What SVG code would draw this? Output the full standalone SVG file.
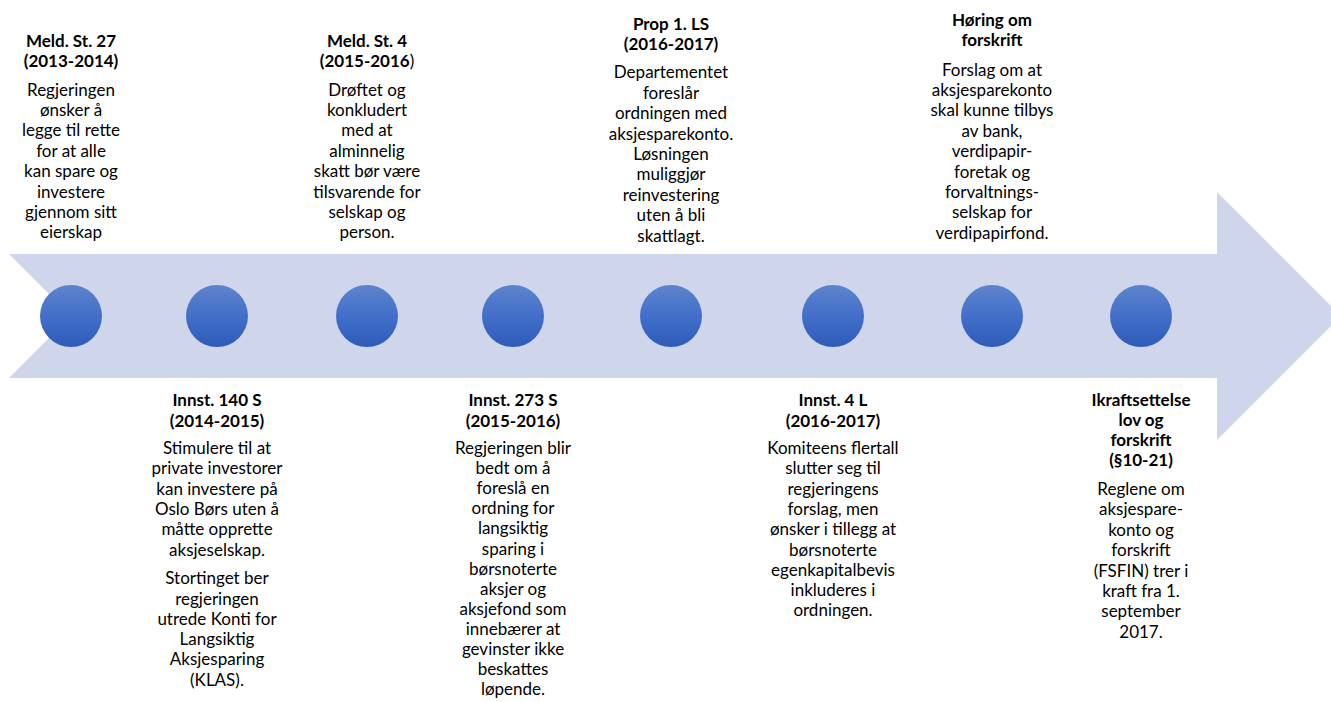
<svg xmlns="http://www.w3.org/2000/svg" width="1331" height="702" viewBox="0 0 1331 702">
<defs>
<linearGradient id="dot" x1="0" y1="0" x2="0" y2="1">
<stop offset="0" stop-color="#5D84CD"/>
<stop offset="0.5" stop-color="#436FC9"/>
<stop offset="1" stop-color="#2D5BB9"/>
</linearGradient>
<style>
.t{font-family:Lato,"Liberation Sans",sans-serif;font-weight:bold;font-size:17px;text-anchor:middle;fill:#000}
.b{font-family:Lato,"Liberation Sans",sans-serif;font-size:17px;text-anchor:middle;fill:#000}
.n{font-weight:normal}
.dot{fill:url(#dot)}
</style>
</defs>
<rect width="1331" height="702" fill="#fff"/>
<g id="arrow">
<polygon points="9,254 1217,254 1217,192 1341,316 1217,440 1217,378 9,378 71,316" fill="#CFD5EA"/>
</g>
<g id="connectors"></g>
<g id="dots">
<circle class="dot" cx="71" cy="316" r="31"/>
<circle class="dot" cx="217" cy="316" r="31"/>
<circle class="dot" cx="367" cy="316" r="31"/>
<circle class="dot" cx="513" cy="316" r="31"/>
<circle class="dot" cx="671" cy="316" r="31"/>
<circle class="dot" cx="833" cy="316" r="31"/>
<circle class="dot" cx="992" cy="316" r="31"/>
<circle class="dot" cx="1141" cy="316" r="31"/>
</g>
<g id="node1">
<text class="t"><tspan x="71" y="46.7">Meld. St. 27</tspan><tspan x="71" y="66.7">(2013-2014)</tspan></text>
<text class="b"><tspan x="71" y="95.5">Regjeringen</tspan><tspan x="71" dy="20.4">ønsker å</tspan><tspan x="71" dy="20.4">legge til rette</tspan><tspan x="71" dy="20.4">for at alle</tspan><tspan x="71" dy="20.4">kan spare og</tspan><tspan x="71" dy="20.4">investere</tspan><tspan x="71" dy="20.4">gjennom sitt</tspan><tspan x="71" dy="20.4">eierskap</tspan></text>
</g>
<g id="node2">
<text class="t"><tspan x="217" y="406">Innst. 140 S</tspan><tspan x="217" y="426.5">(2014-2015)</tspan></text>
<text class="b"><tspan x="217" y="454">Stimulere til at</tspan><tspan x="217" dy="20.3">private investorer</tspan><tspan x="217" dy="20.3">kan investere på</tspan><tspan x="217" dy="20.3">Oslo Børs uten å</tspan><tspan x="217" dy="20.3">måtte opprette</tspan><tspan x="217" dy="20.3">aksjeselskap.</tspan><tspan x="217" dy="28.7">Stortinget ber</tspan><tspan x="217" dy="20.3">regjeringen</tspan><tspan x="217" dy="20.3">utrede Konti for</tspan><tspan x="217" dy="20.3">Langsiktig</tspan><tspan x="217" dy="20.3">Aksjesparing</tspan><tspan x="217" dy="20.3">(KLAS).</tspan></text>
</g>
<g id="node3">
<text class="t"><tspan x="367" y="46.7">Meld. St. 4</tspan><tspan x="367" y="66.7">(2015-2016<tspan class="n">)</tspan></tspan></text>
<text class="b"><tspan x="367" y="95.5">Drøftet og</tspan><tspan x="367" dy="20.4">konkludert</tspan><tspan x="367" dy="20.4">med at</tspan><tspan x="367" dy="20.4">alminnelig</tspan><tspan x="367" dy="20.4">skatt bør være</tspan><tspan x="367" dy="20.4">tilsvarende for</tspan><tspan x="367" dy="20.4">selskap og</tspan><tspan x="367" dy="20.4">person.</tspan></text>
</g>
<g id="node4">
<text class="t"><tspan x="513" y="406">Innst. 273 S</tspan><tspan x="513" y="426.5">(2015-2016)</tspan></text>
<text class="b"><tspan x="513" y="454">Regjeringen blir</tspan><tspan x="513" dy="20.1">bedt om å</tspan><tspan x="513" dy="20.1">foreslå en</tspan><tspan x="513" dy="20.1">ordning for</tspan><tspan x="513" dy="20.1">langsiktig</tspan><tspan x="513" dy="20.1">sparing i</tspan><tspan x="513" dy="20.1">børsnoterte</tspan><tspan x="513" dy="20.1">aksjer og</tspan><tspan x="513" dy="20.1">aksjefond som</tspan><tspan x="513" dy="20.1">innebærer at</tspan><tspan x="513" dy="20.1">gevinster ikke</tspan><tspan x="513" dy="20.1">beskattes</tspan><tspan x="513" dy="20.1">løpende.</tspan></text>
</g>
<g id="node5">
<text class="t"><tspan x="671" y="29.5">Prop 1. LS</tspan><tspan x="671" y="50">(2016-2017)</tspan></text>
<text class="b"><tspan x="671" y="78.3">Departementet</tspan><tspan x="671" dy="20.4">foreslår</tspan><tspan x="671" dy="20.4">ordningen med</tspan><tspan x="671" dy="20.4">aksjesparekonto.</tspan><tspan x="671" dy="20.4">Løsningen</tspan><tspan x="671" dy="20.4">muliggjør</tspan><tspan x="671" dy="20.4">reinvestering</tspan><tspan x="671" dy="20.4">uten å bli</tspan><tspan x="671" dy="20.4">skattlagt.</tspan></text>
</g>
<g id="node6">
<text class="t"><tspan x="833" y="406">Innst. 4 L</tspan><tspan x="833" y="426.5">(2016-2017)</tspan></text>
<text class="b"><tspan x="833" y="454">Komiteens flertall</tspan><tspan x="833" dy="20.3">slutter seg til</tspan><tspan x="833" dy="20.3">regjeringens</tspan><tspan x="833" dy="20.3">forslag, men</tspan><tspan x="833" dy="20.3">ønsker i tillegg at</tspan><tspan x="833" dy="20.3">børsnoterte</tspan><tspan x="833" dy="20.3">egenkapitalbevis</tspan><tspan x="833" dy="20.3">inkluderes i</tspan><tspan x="833" dy="20.3">ordningen.</tspan></text>
</g>
<g id="node7">
<text class="t"><tspan x="992" y="26">Høring om</tspan><tspan x="992" y="46">forskrift</tspan></text>
<text class="b"><tspan x="992" y="75.5">Forslag om at</tspan><tspan x="992" dy="20.4">aksjesparekonto</tspan><tspan x="992" dy="20.4">skal kunne tilbys</tspan><tspan x="992" dy="20.4">av bank,</tspan><tspan x="992" dy="20.4">verdipapir-</tspan><tspan x="992" dy="20.4">foretak og</tspan><tspan x="992" dy="20.4">forvaltnings-</tspan><tspan x="992" dy="20.4">selskap for</tspan><tspan x="992" dy="20.4">verdipapirfond.</tspan></text>
</g>
<g id="node8">
<text class="t"><tspan x="1141" y="406">Ikraftsettelse</tspan><tspan x="1141" y="426">lov og</tspan><tspan x="1141" y="446">forskrift</tspan><tspan x="1141" y="465.5">(§10-21)</tspan></text>
<text class="b"><tspan x="1141" y="495">Reglene om</tspan><tspan x="1141" dy="20.4">aksjespare-</tspan><tspan x="1141" dy="20.4">konto og</tspan><tspan x="1141" dy="20.4">forskrift</tspan><tspan x="1141" dy="20.4">(FSFIN) trer i</tspan><tspan x="1141" dy="20.4">kraft fra 1.</tspan><tspan x="1141" dy="20.4">september</tspan><tspan x="1141" dy="20.4">2017.</tspan></text>
</g>
</svg>
